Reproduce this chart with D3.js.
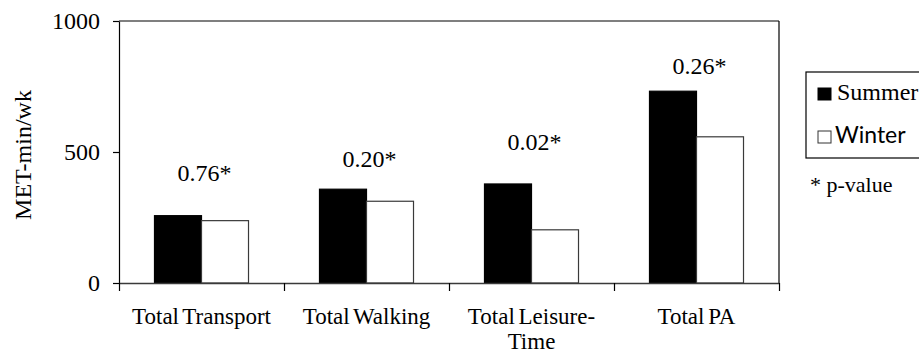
<!DOCTYPE html>
<html>
<head>
<meta charset="utf-8">
<script src="https://cdn.jsdelivr.net/npm/d3@7"></script>
<style>
  html, body { margin: 0; padding: 0; background: #fff; }
  svg { display: block; }
  text { font-family: "Liberation Serif", "Times New Roman", serif; fill: #000; }
</style>
</head>
<body>
<svg id="chart" width="919" height="354"></svg>
<script>
// ---- data ----
const categories = ["Total Transport", "Total Walking", "Total Leisure-Time", "Total PA"];
const categoryLines = [["Total Transport"], ["Total Walking"], ["Total Leisure-", "Time"], ["Total PA"]];
const seriesNames = ["Summer", "Winter"];
const summerValues = [257, 358, 378, 732];
const winterValues = [238, 312, 203, 558];
const pValueLabels = ["0.76*", "0.20*", "0.02*", "0.26*"];
const pLabelLevels = [389, 444, 508, 798]; // label baseline, in MET-min/wk units
const yTicks = [0, 500, 1000];
const yTitle = "MET-min/wk";
const noteText = "* p-value";

// ---- layout ----
const FS = "24px";
const svg = d3.select("#chart");
svg.append("rect").attr("width", 919).attr("height", 354).attr("fill", "#fff");
const pLeft = 119, pRight = 779, pTop = 21, pBottom = 283;

const x = d3.scaleBand().domain(categories).range([pLeft, pRight]).padding(0);
const xInner = d3.scaleBand().domain(seriesNames).range([0, x.bandwidth()])
  .paddingInner(0).paddingOuter(0.755);
const y = d3.scaleLinear().domain([0, 1000]).range([pBottom, pTop]);

const rows = categories.map((c, i) => ({
  cat: c, lines: categoryLines[i],
  vals: [{s: "Summer", v: summerValues[i]}, {s: "Winter", v: winterValues[i]}],
  p: pValueLabels[i], pl: pLabelLevels[i]
}));

// frame: top and right borders
svg.append("line").attr("x1", pLeft).attr("x2", pRight).attr("y1", y(1000)).attr("y2", y(1000))
  .attr("stroke", "#000").attr("stroke-width", 1.2);
svg.append("line").attr("x1", pRight).attr("x2", pRight).attr("y1", y(1000)).attr("y2", y(0))
  .attr("stroke", "#000").attr("stroke-width", 1.2);

// bars
const g = svg.append("g").selectAll("g").data(rows).join("g")
  .attr("transform", d => `translate(${x(d.cat)},0)`);
g.selectAll("rect").data(d => d.vals).join("rect")
  .attr("x", d => xInner(d.s))
  .attr("width", xInner.bandwidth())
  .attr("y", d => y(d.v))
  .attr("height", d => y(0) - y(d.v))
  .attr("fill", d => d.s === "Summer" ? "#000" : "#fff")
  .attr("stroke", d => d.s === "Summer" ? "#000" : "#3a3a3a")
  .attr("stroke-width", 1.2);

// p-value labels
svg.append("g").selectAll("text").data(rows).join("text")
  .attr("x", d => x(d.cat) + x.bandwidth() / 2 + 3)
  .attr("y", d => y(d.pl))
  .attr("text-anchor", "middle")
  .style("font-size", FS)
  .text(d => d.p);

// y axis
const yAxis = d3.axisLeft(y).tickValues(yTicks).tickFormat(d3.format("d"))
  .tickSize(6).tickSizeOuter(0).tickPadding(13);
const ya = svg.append("g").attr("transform", `translate(${pLeft},0)`).call(yAxis);
ya.attr("font-family", null).attr("font-size", null);
ya.select(".domain").attr("stroke", "#000").attr("stroke-width", 1.2);
ya.selectAll(".tick line").attr("stroke", "#000").attr("stroke-width", 1.2);
ya.selectAll(".tick text").style("font-size", FS).style("font-family", "'Liberation Serif', serif").attr("fill", "#000");

// x axis: baseline + boundary ticks
const boundaries = categories.map(c => x(c)).concat([x.range()[1]]);
const xAxisScale = d3.scaleLinear().domain([pLeft, pRight]).range([pLeft, pRight]);
const xa = svg.append("g").attr("transform", `translate(0,${pBottom})`)
  .call(d3.axisBottom(xAxisScale).tickValues(boundaries).tickSize(8).tickSizeOuter(0).tickFormat(""));
xa.select(".domain").attr("stroke", "#3a3a3a").attr("stroke-width", 1.5);
xa.selectAll(".tick line").attr("stroke", "#000").attr("stroke-width", 1.2);

// category labels (each line as its own text)
const lineData = [];
rows.forEach(r => r.lines.forEach((ln, i) => lineData.push({cat: r.cat, ln, i})));
svg.append("g").selectAll("text").data(lineData).join("text")
  .attr("x", d => x(d.cat) + x.bandwidth() / 2)
  .attr("y", d => 323.5 + d.i * 25.3)
  .attr("text-anchor", "middle")
  .style("font-size", "23px")
  .style("word-spacing", "-2px")
  .text(d => d.ln);

// y title
svg.append("text")
  .attr("transform", "translate(31,155) rotate(-90)")
  .attr("text-anchor", "middle")
  .style("font-size", FS)
  .text(yTitle);

// legend
const lg = svg.append("g");
lg.append("rect").attr("x", 806).attr("y", 72).attr("width", 130).attr("height", 86)
  .attr("fill", "#fff").attr("stroke", "#000").attr("stroke-width", 1.2);
const legendItems = seriesNames.map((s, i) => ({s, i}));
const li = lg.selectAll("g.item").data(legendItems).join("g").attr("class", "item")
  .attr("transform", d => `translate(817,${d.i === 0 ? 88 : 131})`);
li.append("rect").attr("x", 1).attr("y", 0).attr("width", 13).attr("height", 12)
  .attr("fill", d => d.s === "Summer" ? "#000" : "#fff")
  .attr("stroke", d => d.s === "Summer" ? "#000" : "#333").attr("stroke-width", 1);
li.append("text").attr("x", d => d.s === "Summer" ? 20 : 18).attr("y", 12)
  .style("font-size", d => d.s === "Summer" ? FS : "23px")
  .style("font-family", d => d.s === "Summer" ? "'Liberation Serif', serif" : "Lato, 'Open Sans', sans-serif")
  .text(d => d.s);

svg.append("text").attr("x", 810).attr("y", 192).style("font-size", "22px").text(noteText);
</script>
</body>
</html>
